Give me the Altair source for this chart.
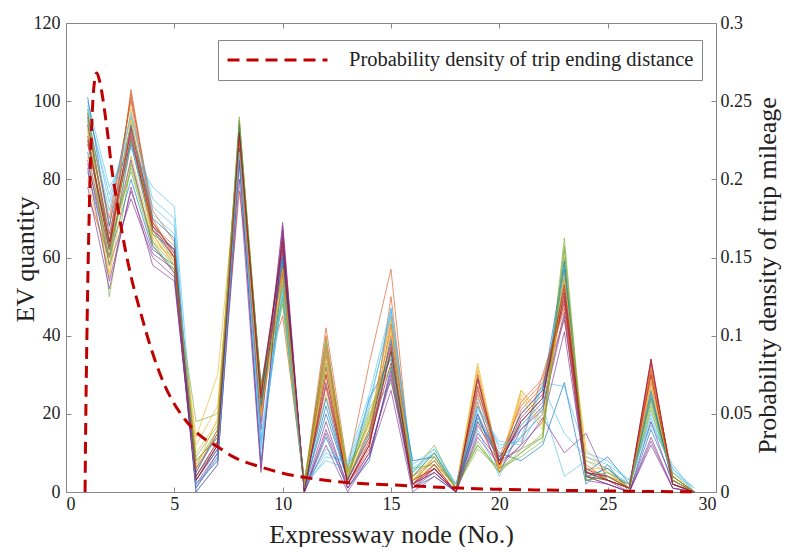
import altair as alt
import pandas as pd

# ---------------- data ----------------
nodes = list(range(1, 30))

series = [
    [96, 64, 90, 68, 62, 4, 12, 92, 22, 60, 1, 20, 3, 14, 36, 3, 8, 1, 22, 8, 14, 20, 55, 5, 3, 1, 24, 3, 0],
    [76, 60, 103, 70, 60, 8, 14, 77, 28, 45, 2, 42, 6, 33, 57, 2, 6, 0, 18, 6, 12, 30, 48, 6, 4, 2, 30, 2, 0],
    [90, 62, 98, 66, 58, 14, 30, 88, 24, 58, 1, 30, 4, 18, 44, 4, 9, 1, 33, 7, 26, 18, 52, 9, 6, 1, 26, 4, 0],
    [85, 58, 75, 60, 55, 2, 10, 86, 18, 69, 0, 16, 2, 10, 30, 2, 5, 0, 20, 5, 16, 22, 46, 4, 2, 0, 12, 1, 0],
    [98, 50, 84, 64, 56, 18, 20, 94, 26, 50, 3, 38, 5, 20, 28, 6, 7, 2, 12, 6, 10, 15, 65, 4, 3, 1, 22, 5, 0],
    [100, 78, 88, 78, 73, 6, 14, 90, 14, 54, 2, 10, 7, 15, 47, 5, 10, 1, 16, 4, 18, 24, 58, 3, 5, 2, 20, 6, 1],
    [94, 66, 92, 67, 60, 3, 11, 93, 20, 62, 1, 28, 3, 16, 38, 3, 6, 0, 30, 8, 20, 26, 50, 5, 4, 1, 34, 2, 0],
    [82, 60, 80, 62, 58, 1, 9, 84, 8, 56, 0, 14, 1, 8, 32, 1, 4, 0, 18, 10, 8, 12, 28, 2, 7, 0, 16, 3, 0],
    [97, 68, 101, 72, 64, 5, 16, 95, 25, 58, 1, 35, 2, 12, 40, 4, 8, 1, 26, 9, 22, 28, 44, 7, 3, 1, 28, 4, 0],
    [92, 55, 86, 65, 59, 10, 18, 89, 28, 52, 2, 25, 4, 14, 42, 3, 7, 0, 28, 6, 24, 16, 56, 6, 6, 1, 31, 2, 0],
    [78, 52, 78, 58, 54, 2, 8, 80, 5, 67, 0, 12, 0, 9, 26, 0, 4, 0, 14, 7, 12, 18, 41, 4, 2, 0, 14, 1, 0],
    [95, 64, 82, 63, 57, 7, 16, 96, 23, 48, 1, 36, 5, 18, 35, 2, 9, 1, 12, 5, 10, 14, 62, 3, 4, 1, 24, 4, 0],
    [99, 74, 96, 75, 70, 0, 7, 86, 12, 50, 2, 8, 6, 22, 46, 7, 11, 2, 24, 11, 14, 28, 27, 10, 8, 3, 18, 6, 0],
    [91, 62, 94, 69, 61, 3, 12, 92, 26, 64, 0, 32, 2, 12, 37, 2, 7, 0, 29, 7, 19, 25, 49, 4, 3, 1, 33, 3, 0],
    [87, 60, 89, 66, 62, 5, 15, 91, 27, 61, 1, 22, 3, 24, 34, 4, 10, 1, 20, 8, 17, 23, 57, 5, 9, 2, 26, 2, 0],
    [96, 70, 100, 68, 63, 4, 13, 88, 21, 57, 1, 40, 2, 11, 50, 3, 6, 0, 23, 6, 21, 27, 52, 6, 3, 1, 32, 3, 0],
    [80, 56, 96, 64, 60, 6, 19, 90, 19, 55, 2, 34, 5, 17, 45, 3, 8, 1, 32, 5, 26, 20, 54, 11, 5, 1, 29, 2, 0],
    [84, 62, 85, 63, 56, 1, 10, 88, 16, 68, 0, 18, 1, 9, 31, 2, 5, 0, 17, 9, 16, 21, 45, 3, 2, 0, 18, 2, 0],
    [93, 58, 90, 67, 59, 9, 17, 93, 24, 53, 3, 33, 4, 19, 36, 5, 12, 1, 11, 6, 9, 13, 60, 4, 5, 2, 23, 3, 0],
    [98, 76, 93, 71, 66, 2, 8, 86, 11, 51, 1, 9, 8, 25, 47, 6, 10, 2, 21, 13, 12, 22, 4, 8, 6, 2, 17, 7, 0],
    [89, 63, 91, 67, 62, 4, 13, 91, 25, 63, 1, 27, 2, 13, 33, 1, 6, 0, 27, 7, 18, 24, 51, 5, 4, 1, 30, 2, 0],
    [101, 68, 94, 70, 65, 3, 11, 94, 22, 59, 2, 24, 3, 15, 39, 8, 9, 1, 19, 8, 20, 26, 59, 4, 6, 1, 25, 3, 0],
    [94, 64, 102, 69, 61, 6, 15, 90, 26, 56, 1, 37, 3, 14, 43, 2, 7, 0, 25, 7, 23, 29, 47, 6, 3, 1, 31, 4, 0],
    [86, 60, 95, 66, 58, 12, 22, 87, 20, 57, 2, 31, 4, 16, 41, 3, 9, 1, 31, 6, 25, 17, 55, 8, 5, 1, 27, 3, 0],
    [83, 54, 77, 61, 57, 0, 7, 85, 6, 66, 0, 15, 1, 10, 29, 1, 5, 0, 15, 8, 11, 19, 10, 15, 3, 0, 13, 1, 0],
    [97, 62, 83, 64, 58, 8, 14, 95, 27, 49, 1, 39, 5, 21, 32, 4, 10, 1, 13, 5, 11, 14, 63, 3, 4, 1, 21, 4, 0],
    [95, 72, 97, 73, 68, 1, 9, 87, 13, 52, 1, 11, 7, 23, 45, 5, 11, 2, 22, 12, 13, 27, 15, 9, 7, 3, 19, 5, 1],
    [90, 64, 93, 68, 60, 3, 12, 92, 24, 65, 0, 30, 2, 12, 36, 2, 6, 0, 29, 7, 18, 24, 53, 5, 3, 1, 34, 2, 0],
]

matlab_colors = ["#0072BD", "#D95319", "#EDB120", "#7E2F8E", "#77AC30", "#4DBEEE", "#A2142F"]

dens_x = [0.88, 0.92, 0.96, 1.0, 1.05, 1.1, 1.18, 1.28, 1.42, 1.55, 1.65, 1.8, 1.95, 2.1,
          2.3, 2.6, 3.0, 3.5, 3.9, 4.5, 5.4, 6.2, 7.0, 7.7, 9.0, 10.0, 11.5, 13.0, 14.2,
          15.4, 16.7, 18.2, 19.7, 21.0, 22.2, 24.6, 26.5, 28.0, 29.2]
dens_y = [0.0, 0.055, 0.095, 0.13, 0.165, 0.195, 0.232, 0.258, 0.268, 0.263, 0.256, 0.242,
          0.226, 0.208, 0.19, 0.165, 0.138, 0.112, 0.093, 0.07, 0.048, 0.036, 0.029, 0.0226,
          0.016, 0.012, 0.0083, 0.006, 0.005, 0.0043, 0.0034, 0.0025, 0.0018, 0.0015, 0.0012,
          0.0007, 0.0004, 0.0002, 0.0001]

legend_label = "Probability density of trip ending distance"
x_ticks = [0, 5, 10, 15, 20, 25, 30]
left_ticks = [0, 20, 40, 60, 80, 100, 120]
right_ticks = [0, 0.05, 0.1, 0.15, 0.2, 0.25, 0.3]

# ---------------- tables ----------------
names = [f"s{i:02d}" for i in range(len(series))]
rows = []
for name, vals in zip(names, series):
    for n, v in zip(nodes, vals):
        rows.append({"series": name, "node": n, "ev": v})
lines_df = pd.DataFrame(rows)
dens_df = pd.DataFrame({"x": dens_x, "p": dens_y, "name": legend_label})

FONT = "Liberation Serif"
TXT = "#222222"
FRAME = "#888888"

xscale = alt.Scale(domain=[0, 30], nice=False, zero=False)

lines = alt.Chart(lines_df).mark_line(strokeWidth=0.7, opacity=0.9).encode(
    x=alt.X("node:Q", scale=xscale,
            axis=alt.Axis(orient="bottom", values=x_ticks, title="Expressway node (No.)",
                          offset=-5, tickSize=5, labelPadding=3, titlePadding=8)),
    y=alt.Y("ev:Q", scale=alt.Scale(domain=[0, 120], nice=False),
            axis=alt.Axis(orient="left", values=left_ticks, title="EV quantity",
                          offset=-5, tickSize=5, labelPadding=6,
                          titleX=-46, titleY=236, titleBaseline="middle")),
    color=alt.Color("series:N",
                    scale=alt.Scale(domain=names,
                                    range=[matlab_colors[i % 7] for i in range(len(names))]),
                    legend=None),
    detail="series:N",
)

dens = alt.Chart(dens_df).mark_line(strokeWidth=3, strokeDash=[12, 7], interpolate="monotone").encode(
    x=alt.X("x:Q", scale=xscale,
            axis=alt.Axis(orient="top", values=x_ticks, labels=False, title=None,
                          offset=-5, tickSize=5)),
    y=alt.Y("p:Q", scale=alt.Scale(domain=[0, 0.3], nice=False),
            axis=alt.Axis(orient="right", values=right_ticks, format="~g",
                          title="Probability density of trip mileage",
                          offset=-5, tickSize=5, labelPadding=4,
                          titleAngle=270, titleX=56, titleY=252, titleBaseline="middle")),
    color=alt.Color("name:N", scale=alt.Scale(range=["#C00000"]),
                    legend=alt.Legend(title=None, orient="none", legendX=152, legendY=17,
                                      symbolType="stroke", symbolSize=10000,
                                      symbolStrokeWidth=3, symbolDash=[12, 7],
                                      clipHeight=24,
                                      labelFont=FONT, labelFontSize=20.5, labelColor=TXT,
                                      labelOffset=20, labelLimit=600,
                                      strokeColor=FRAME, fillColor="white", padding=8)),
)

chart = alt.layer(lines, dens).resolve_scale(
    y="independent", color="independent"
).resolve_axis(x="independent").properties(
    width=650, height=469,
    autosize=alt.AutoSizeParams(type="none"),
    padding={"left": 58, "top": 15, "right": 71, "bottom": 55},
).configure_view(
    stroke=FRAME, strokeWidth=1
).configure_axis(
    grid=False, domain=False,
    labelFont=FONT, labelFontSize=18, labelColor=TXT,
    titleFont=FONT, titleFontSize=26, titleFontWeight="normal", titleColor=TXT,
    tickColor=FRAME,
)

chart.save("out.html", embed_options={"renderer": "svg", "actions": False})
